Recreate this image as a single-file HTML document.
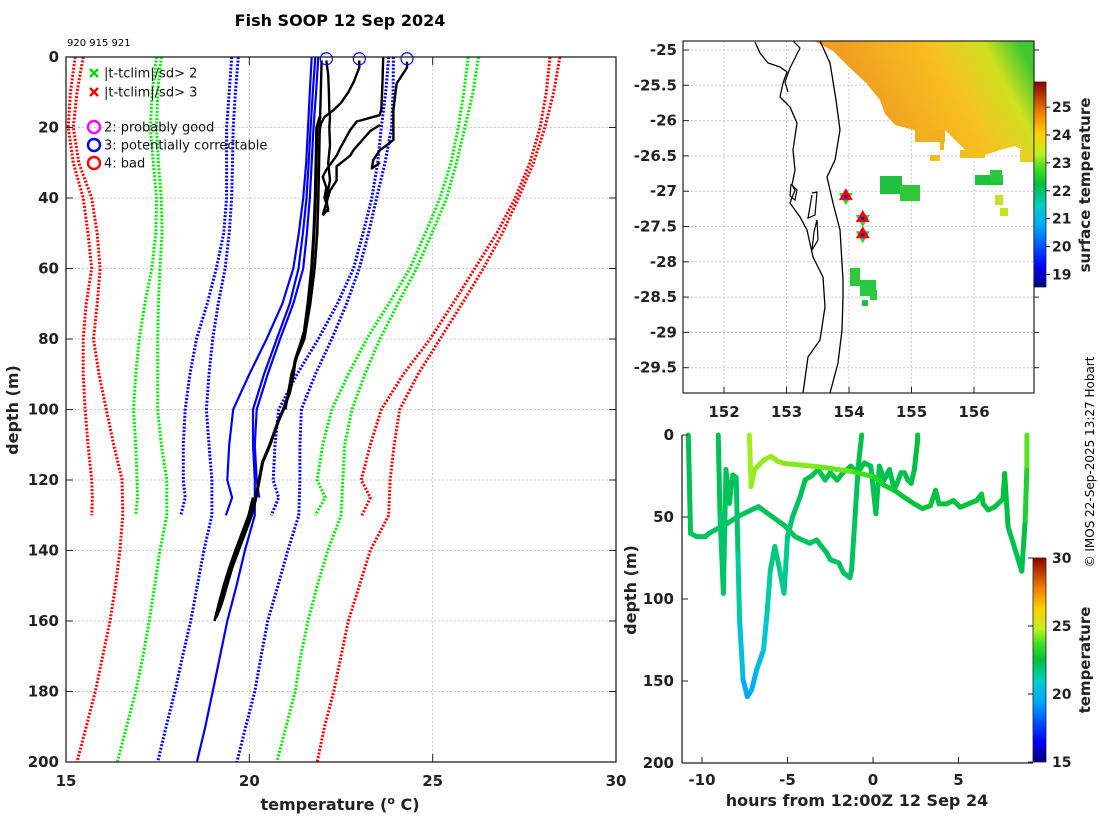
<!DOCTYPE html>
<html><head><meta charset="utf-8">
<style>
html,body{margin:0;padding:0;background:#fff;}
svg{display:block;font-family:"DejaVu Sans","Liberation Sans",sans-serif;}
.tk{font-size:15px;font-weight:bold;fill:#222;}
.lab{font-size:16px;font-weight:bold;fill:#222;}
.lg{font-size:13px;fill:#111;}
</style></head><body>
<svg id="svg" width="1100" height="820" viewBox="0 0 1100 820" xmlns="http://www.w3.org/2000/svg">
<defs>
<linearGradient id="jet" x1="0" y1="1" x2="0" y2="0">
<stop offset="0" stop-color="#00007f"/><stop offset="0.1" stop-color="#0000ff"/><stop offset="0.3" stop-color="#00aaff"/><stop offset="0.4" stop-color="#00d0c0"/><stop offset="0.5" stop-color="#00c040"/><stop offset="0.58" stop-color="#40e020"/><stop offset="0.65" stop-color="#c0f020"/><stop offset="0.75" stop-color="#ffd000"/><stop offset="0.85" stop-color="#f08000"/><stop offset="1" stop-color="#900000"/>
</linearGradient>
<linearGradient id="sst" gradientUnits="userSpaceOnUse" x1="880" y1="120" x2="1020" y2="45">
<stop offset="0" stop-color="#f0a020"/><stop offset="0.5" stop-color="#f8c020"/><stop offset="0.8" stop-color="#d0e020"/><stop offset="1" stop-color="#40c830"/>
</linearGradient>
</defs>
<text x="340" y="26" text-anchor="middle" style="font-size:16px;font-weight:bold">Fish SOOP 12 Sep 2024</text>
<text x="67" y="46" style="font-size:10px">920 915 921</text>
<g id="main"></g><g id="map"></g><g id="bot"></g>
<text transform="translate(18,410) rotate(-90)" text-anchor="middle" class="lab">depth (m)</text>
<text x="340" y="810" text-anchor="middle" class="lab">temperature (<tspan dy="-6" style="font-size:11px">o</tspan><tspan dy="6"> C)</tspan></text>
<text transform="translate(636,590) rotate(-90)" text-anchor="middle" class="lab">depth (m)</text>
<text x="857" y="806" text-anchor="middle" class="lab">hours from 12:00Z 12 Sep 24</text>
<text transform="translate(1090,185) rotate(-90)" text-anchor="middle" class="lab" style="font-size:15px">surface temperature</text>
<text transform="translate(1090,660) rotate(-90)" text-anchor="middle" class="lab" style="font-size:15px">temperature</text>
<text transform="translate(1094,462) rotate(-90)" text-anchor="middle" style="font-size:12px">© IMOS 22-Sep-2025 13:27 Hobart</text>
</svg>
<script>
// ---------- main profile chart data ----------
const depthsLong=[0,10,20,30,40,50,60,70,80,90,100,110,120,130,140,150,160,170,180,190,200];
const depthsShort=[0,10,20,30,40,50,60,70,80,90,100,110,120,125,130];
const redLeftShort=[15.25,15.12,15.06,15.2,15.47,15.6,15.7,15.55,15.47,15.47,15.52,15.6,15.7,15.72,15.7];
const redLeftLong=[15.47,15.3,15.2,15.35,15.7,15.85,15.93,15.85,15.75,15.9,16.1,16.3,16.53,16.55,16.47,16.35,16.2,16.0,15.8,15.55,15.3];
const greenLeftShort=[17.47,17.35,17.3,17.38,17.47,17.45,17.34,17.15,17.0,16.9,16.84,16.9,16.94,16.95,16.9];
const greenLeftLong=[17.6,17.5,17.47,17.52,17.6,17.62,17.56,17.52,17.5,17.5,17.5,17.6,17.75,17.75,17.56,17.42,17.27,17.1,16.9,16.65,16.4];
const blueLeftShort=[19.52,19.45,19.38,19.38,19.38,19.3,19.1,18.85,18.56,18.38,18.25,18.2,18.2,18.25,18.13];
const blueLeftLong=[19.7,19.62,19.56,19.54,19.52,19.45,19.34,19.15,19.0,18.9,18.83,18.9,18.98,18.98,18.76,18.58,18.4,18.18,17.97,17.73,17.5];
const blueRightShort=[23.8,23.72,23.6,23.5,23.34,23.1,22.84,22.4,21.88,21.3,20.8,20.7,20.65,20.8,20.6];
const blueRightLong=[23.93,23.92,23.88,23.7,23.47,23.25,23.0,22.65,22.25,21.8,21.42,21.38,21.38,21.35,21.05,20.78,20.5,20.32,20.15,19.9,19.66];
const greenRightShort=[25.97,25.85,25.7,25.5,25.2,24.8,24.38,23.8,23.2,22.7,22.25,22.0,21.85,22.07,21.8];
const greenRightLong=[26.25,26.1,25.88,25.65,25.38,24.98,24.56,24.05,23.56,23.15,22.8,22.6,22.55,22.5,22.14,21.85,21.6,21.4,21.25,21.0,20.75];
const redRightShort=[28.2,28.1,27.93,27.65,27.25,26.75,26.15,25.55,24.93,24.2,23.6,23.3,23.05,23.3,23.07];
const redRightLong=[28.47,28.3,28.06,27.75,27.34,26.9,26.38,25.8,25.2,24.6,24.1,23.95,23.84,23.8,23.3,23.0,22.7,22.5,22.3,22.05,21.85];
const meanShort1=[21.7,21.65,21.6,21.55,21.47,21.35,21.2,20.9,20.47,20.0,19.56,19.45,19.4,19.53,19.36];
const meanLong=[21.8,21.73,21.67,21.62,21.56,21.46,21.34,21.1,20.75,20.4,20.1,20.1,20.15,20.15,19.88,19.65,19.4,19.2,19.0,18.8,18.57];
const meanShort2=[21.88,21.82,21.75,21.7,21.65,21.57,21.47,21.2,20.84,20.5,20.2,20.15,20.2,20.27];
const profMainD=[17,20,30,40,50,60,70,78,82,86,90,95,100,103,110,115,120,125,130,135,140,145,150,155,159];
const profMainT=[21.93,21.84,21.82,21.8,21.76,21.7,21.6,21.5,21.38,21.25,21.2,21.1,20.93,20.8,20.56,20.36,20.27,20.18,20.06,19.88,19.7,19.52,19.38,19.24,19.09];
const profM2D=[20,30,40,50,60,70,80,85,90,100];
const profM2T=[21.92,21.9,21.88,21.85,21.78,21.66,21.5,21.3,21.15,20.98];
const profM3D=[125,130,135,140,145,150,155,160];
const profM3T=[20.1,19.98,19.8,19.62,19.45,19.3,19.17,19.05];
const profK0D=[1,10,17,20];
const profK0T=[21.97,21.95,21.93,21.9];
const profK1D=[1,5,10,15,17,20,25,30,35,40,44];
const profK1T=[22.1,22.15,22.17,22.18,22.2,22.18,22.2,22.15,22.2,22.1,22.15];
const profK2D=[1,3,7,10,13,15,17,19,22];
const profK2T=[23.0,23.0,22.85,22.7,22.5,22.3,22.05,21.95,21.9];
const profK3D=[0,8,15,16.5,18.3,20.7,26,28,32,34,37,40,43,45];
const profK3T=[23.65,23.63,23.6,23.55,22.93,22.75,22.47,22.38,22.1,22.0,22.1,22.05,22.15,22.0];
const profK4D=[1.3,3,7.5,15,18.3,20.7,23.5,25.4,26.4,29.2,31.6,30];
const profK4T=[24.3,24.3,24.02,23.93,23.93,23.93,23.93,23.7,23.56,23.38,23.34,23.56];
const profK5D=[19.3,21,26.4,28,31,35,38,41.5,44.8];
const profK5T=[23.56,23.3,22.84,22.75,22.38,22.38,22.2,22.1,22.0];
const flagTemps=[22.1,23.0,24.3];
const xTicks=[15,20,25,30];
const yTicks=[0,20,40,60,80,100,120,140,160,180,200];

// ---------- map data ----------
const lonTicks=[152,153,154,155,156];
const latTicks=[-25,-25.5,-26,-26.5,-27,-27.5,-28,-28.5,-29,-29.5];
const stationLon=[153.95,154.22,154.22];
const stationLat=[-27.07,-27.38,-27.61];
const sstTicks=[19,20,21,22,23,24,25];

// ---------- track chart data ----------
const trackAH=[-10.8,-10.67,-10.3,-9.8,-9.6,-8.55,-7.77,-6.7,-6.0,-5.2,-4.55,-3.7,-3.3,-2.7,-2.5,-2.0,-1.73,-1.35,-1.25,-1.05,-0.86,-0.66];
const trackAD=[0,60,62,62,60,54,49,43.7,49,55,62,66,64,72,76,78,84,87,82,50,19,0];
const trackAT=[22.4,22.2,22.2,22.2,22.2,22.2,22.2,22.2,22.2,22.2,22.2,22.2,22.2,22.2,22.2,22.1,22.1,22.1,22.1,22.2,22.3,22.4];
const trackBH=[-9.05,-8.95,-8.75,-8.6,-8.4,-8.2,-8.0,-7.9,-7.8,-7.6,-7.35,-7.1,-6.8,-6.4,-6.2,-6.0,-5.74,-5.5,-5.2,-5.0,-4.7,-4.26,-3.97,-3.6,-3.2,-2.8,-2.5,-2.1,-1.75,-1.3,-0.9,-0.5,-0.13,0.17,0.37,0.66,0.96,1.25,1.64,1.84,2.03,2.23,2.42,2.61,2.61];
const trackBD=[0,48,96.5,21,41.7,24.4,26,72,113,149,159.5,155.5,143,131,109,82.3,68,80,96.5,62,49.8,37.6,27.4,25,21,27.5,23,27.5,23,19,23,17,19,48,19,27.4,21,33.5,23,23,27.4,29.5,21,3,0];
const trackBT=[22.5,22.2,21.8,22.3,22.2,22.3,22.3,21.8,21.0,19.8,19.4,19.5,20.0,20.4,21.0,21.6,21.8,21.7,21.4,21.8,22.0,22.2,22.3,22.3,22.4,22.3,22.4,22.3,22.4,22.4,22.4,22.4,22.4,22.1,22.4,22.3,22.4,22.3,22.4,22.4,22.3,22.3,22.4,22.6,22.6];
const trackCH=[-7.23,-7.13,-6.93,-6.35,-5.96,-5.57,-5.2,-3.06,-1.1,0.07,0.66,1.25,1.8,2.4,2.9,3.36,3.66,3.86,4.3,4.7,5.1,5.57,6.05,6.35,6.44,6.74,7.1,7.6,7.7,7.9,8.5,8.7,8.9,9.0,9.0];
const trackCD=[0,31.5,21,15,13,16,17.3,19.5,22.5,25.6,30.7,33.7,37.8,41.9,44.9,43,33.7,42,42,40,44,42,40,36,42,45.7,44,39,23.5,56,76.2,83,52,19,0];
const trackCT=[24.6,24.4,24.4,24.4,24.4,24.4,24.3,24.2,23.9,23.4,23.0,22.7,22.7,22.6,22.6,22.6,22.6,22.6,22.6,22.6,22.6,22.6,22.6,22.6,22.6,22.6,22.6,22.6,22.6,22.4,22.3,22.3,22.6,23.6,24.2];
const hourTicks=[-10,-5,0,5];
const depthTicks=[0,50,100,150,200];
const tempCbTicks=[15,20,25,30];

const NS="http://www.w3.org/2000/svg";
function mk(tag,attrs,parent){const e=document.createElementNS(NS,tag);for(const k in attrs)e.setAttribute(k,attrs[k]);parent.appendChild(e);return e;}
function pts(xs,ys){return xs.map((v,i)=>v.toFixed(1)+','+ys[i].toFixed(1)).join(' ');}

// ===== main chart =====
const gM=document.getElementById('main');
const L=66,R=616,T=57,B=762;
const sx=t=>L+(t-15)*(R-L)/15;
const sy=d=>T+d*(B-T)/200;
xTicks.forEach(t=>{
  if(t>15&&t<30){const g=mk('line',{x1:sx(t),x2:sx(t),y1:T,y2:B,stroke:'#c4c8e0','stroke-dasharray':'2 2','stroke-width':1},gM);
  
  
  mk('line',{x1:sx(t),x2:sx(t),y1:B,y2:B-8,stroke:'#222'},gM);mk('line',{x1:sx(t),x2:sx(t),y1:T,y2:T+8,stroke:'#222'},gM);}
  const tx=mk('text',{x:sx(t),y:B+24,'text-anchor':'middle',class:'tk'},gM);tx.textContent=t;
  
  
});
yTicks.forEach(d=>{
  if(d>0&&d<200){const g=mk('line',{x1:L,x2:R,y1:sy(d),y2:sy(d),stroke:'#c4c8e0','stroke-dasharray':'2 2','stroke-width':1},gM);
  
  
  mk('line',{x1:L,x2:L+7,y1:sy(d),y2:sy(d),stroke:'#222'},gM);mk('line',{x1:R,x2:R-7,y1:sy(d),y2:sy(d),stroke:'#222'},gM);}
  const tx=mk('text',{x:L-7,y:sy(d)+5,'text-anchor':'end',class:'tk'},gM);tx.textContent=d;
  
  
});
function clim(depths,temps,color,name){
  const p=mk('polyline',{points:pts(temps.map(sx),depths.slice(0,temps.length).map(sy)),fill:'none',stroke:color,'stroke-width':3,'stroke-dasharray':'2 1.6'},gM);
  
  
}
clim(depthsShort,redLeftShort,'#ff0000','clim-minus3sd-short');
clim(depthsLong,redLeftLong,'#ff0000','clim-minus3sd-long');
clim(depthsShort,greenLeftShort,'#00ee00','clim-minus2sd-short');
clim(depthsLong,greenLeftLong,'#00ee00','clim-minus2sd-long');
clim(depthsShort,blueLeftShort,'#0000ff','clim-minus1sd-short');
clim(depthsLong,blueLeftLong,'#0000ff','clim-minus1sd-long');
clim(depthsShort,blueRightShort,'#0000ff','clim-plus1sd-short');
clim(depthsLong,blueRightLong,'#0000ff','clim-plus1sd-long');
clim(depthsShort,greenRightShort,'#00ee00','clim-plus2sd-short');
clim(depthsLong,greenRightLong,'#00ee00','clim-plus2sd-long');
clim(depthsShort,redRightShort,'#ff0000','clim-plus3sd-short');
clim(depthsLong,redRightLong,'#ff0000','clim-plus3sd-long');
function solid(depths,temps,color,w,name){
  const p=mk('polyline',{points:pts(temps.map(sx),depths.slice(0,temps.length).map(sy)),fill:'none',stroke:color,'stroke-width':w,'stroke-linejoin':'round'},gM);
  
  
}
solid(depthsShort,meanShort1,'#0000ff',2.2,'clim-mean-short');
solid(depthsLong,meanLong,'#0000ff',2.2,'clim-mean-long');
solid(depthsShort,meanShort2,'#0000ff',2.2,'clim-mean-short-2');
solid(profMainD,profMainT,'#000',3.2,'profile-main');
solid(profM2D,profM2T,'#000',2.6,'profile-main-2');
solid(profM3D,profM3T,'#000',2.6,'profile-main-3');
solid(profK0D,profK0T,'#000',2.4,'profile-920');
solid(profK1D,profK1T,'#000',2.4,'profile-920b');
solid(profK2D,profK2T,'#000',2.4,'profile-915');
solid(profK3D,profK3T,'#000',2.4,'profile-915b');
solid(profK4D,profK4T,'#000',2.4,'profile-921');
solid(profK5D,profK5T,'#000',2.4,'profile-921b');
flagTemps.forEach(t=>{
  const c=mk('circle',{cx:sx(t),cy:sy(0.5),r:6,fill:'none',stroke:'#0000ff','stroke-width':1.2},gM);
  
  
});
mk('rect',{x:L,y:T,width:R-L,height:B-T,fill:'none',stroke:'#222','stroke-width':1.3},gM);
// legend
const lgItems=[['x','#00dd00',73,'|t-tclim|/sd> 2'],['x','#ff0000',92,'|t-tclim|/sd> 3'],['o','#ff00ff',127,'2: probably good'],['o','#0000ff',145,'3: potentially correctable'],['o','#ff0000',163,'4: bad']];
lgItems.forEach(it=>{
  const g=mk('g',{},gM);
  
  
  if(it[0]=='x'){mk('path',{d:`M90 ${it[2]-4}l8 8M98 ${it[2]-4}l-8 8`,stroke:it[1],'stroke-width':2.4},g);}
  else{mk('circle',{cx:94,cy:it[2],r:6,fill:'none',stroke:it[1],'stroke-width':2.4},g);}
  const tx=mk('text',{x:104,y:it[2]+4.5,class:'lg'},g);tx.textContent=it[3];
});

// ===== map =====
const gP=document.getElementById('map');
const mL=683,mR=1034,mT=41,mB=393;
const mx=lo=>724+(lo-152)*62.5;
const my=la=>50+(-25-la)*70.6;
lonTicks.forEach(lo=>{
  const g=mk('line',{x1:mx(lo),x2:mx(lo),y1:mT,y2:mB,stroke:'#c4c8e0','stroke-dasharray':'2 2'},gP);
  
  
  mk('line',{x1:mx(lo),x2:mx(lo),y1:mB,y2:mB-6,stroke:'#222'},gP);
  const tx=mk('text',{x:mx(lo),y:mB+24,'text-anchor':'middle',class:'tk'},gP);tx.textContent=lo;
  
  
});
latTicks.forEach(la=>{
  const g=mk('line',{x1:mL,x2:mR,y1:my(la),y2:my(la),stroke:'#c4c8e0','stroke-dasharray':'2 2'},gP);
  
  
  mk('line',{x1:mL,x2:mL+6,y1:my(la),y2:my(la),stroke:'#222'},gP);
  mk('line',{x1:mR,x2:mR+5,y1:my(la),y2:my(la),stroke:'#222'},gP);
  const tx=mk('text',{x:mL-6,y:my(la)+5,'text-anchor':'end',class:'tk'},gP);tx.textContent=la;
  
  
});
// SST patches
const sst=mk('polygon',{points:'814,41 1034,41 1034,156 1015,146 1000,150 985,155 965,150 955,140 945,130 925,133 910,129 895,125 885,114 880,100 866,83 850,68 833,51',fill:'url(#sst)'},gP);


[[880,176,22,18,'#20c040'],[900,185,20,16,'#30c838'],[850,268,10,18,'#30c838'],[860,280,16,16,'#28c840'],[870,290,7,10,'#30c838'],[862,300,6,6,'#20c040'],[975,175,28,10,'#20c040'],[990,170,12,12,'#28c840'],[915,130,30,12,'#f0b020'],[940,140,4,10,'#f0b020'],[995,195,8,10,'#c8e020'],[1000,208,8,8,'#c8e020'],[1020,150,14,12,'#e8d020'],[960,150,25,8,'#f0c020'],[930,155,10,6,'#f0c020']].forEach(r=>{
  const e=mk('rect',{x:r[0],y:r[1],width:r[2],height:r[3],fill:r[4]},gP);
  
  
});
// coastline and shelf
const coast=mk('polyline',{points:'755,42 760,53 768,63 780,67 787,72 783,83 780,97 790,107 797,123 793,150 795,170 792,185 795,190 790,203 800,217 807,230 813,257 823,277 825,307 820,340 808,357 803,393',fill:'none',stroke:'#000','stroke-width':1.3},gP);


mk('polyline',{points:'793,41 800,48 790,68 785,82 788,92',fill:'none',stroke:'#000','stroke-width':1.2},gP);
mk('polyline',{points:'812,193 817,192 815,215 808,218 812,195',fill:'none',stroke:'#000','stroke-width':1.2},gP);
mk('polyline',{points:'817,220 818,240 812,250 814,232 817,220',fill:'none',stroke:'#000','stroke-width':1.2},gP);
mk('polyline',{points:'791,184 797,190 795,200 790,196 791,184',fill:'none',stroke:'#000','stroke-width':1.2},gP);
const shelf=mk('polyline',{points:'820,41 830,63 836,100 840,130 835,160 827,177 833,203 840,230 843,280 843,297 842,330 838,363 830,393',fill:'none',stroke:'#000','stroke-width':1.3},gP);


stationLon.forEach((lo,i)=>{
  const x=mx(lo),y=my(stationLat[i]);
  const g=mk('g',{},gP);
  
  
  mk('polygon',{points:`${x-7},${y-3} ${x+7},${y-3} ${x},${y+9}`,fill:'#22dd22'},g);
  mk('polygon',{points:`${x-7},${y+4} ${x+7},${y+4} ${x},${y-8}`,fill:'#ff0000'},g);
  mk('rect',{x:x-1.5,y:y-1,width:3,height:3,fill:'#0000ff'},g);
});
mk('rect',{x:mL,y:mT,width:mR-mL,height:mB-mT,fill:'none',stroke:'#222','stroke-width':1.2},gP);
// sst colorbar
const cb1T=82,cb1B=287,cb1min=18.55,cb1max=25.9;
const cb1y=v=>cb1B-(v-cb1min)/(cb1max-cb1min)*(cb1B-cb1T);
const cb1=mk('rect',{x:1034,y:cb1T,width:12,height:cb1B-cb1T,fill:'url(#jet)',stroke:'#222','stroke-width':0.8},gP);


sstTicks.forEach(v=>{
  mk('line',{x1:1046,x2:1050,y1:cb1y(v),y2:cb1y(v),stroke:'#222'},gP);
  const tx=mk('text',{x:1052,y:cb1y(v)+5,class:'tk',style:'font-size:14px'},gP);tx.textContent=v;
  
  
});

// ===== track chart =====
const gB=document.getElementById('bot');
const bL=682,bR=1033,bT=435,bB=763;
const bx=h=>873+h*17.1;
const by=d=>bT+d*(bB-bT)/200;
const stops=[[0,[0,0,127]],[0.1,[0,0,255]],[0.3,[0,170,255]],[0.4,[0,208,192]],[0.5,[0,192,64]],[0.58,[64,224,32]],[0.65,[192,240,32]],[0.75,[255,208,0]],[0.85,[240,128,0]],[1,[144,0,0]]];
function jet(t){const f=Math.max(0,Math.min(1,(t-15)/15));for(let i=1;i<stops.length;i++){if(f<=stops[i][0]){const a=stops[i-1],b=stops[i],u=(f-a[0])/(b[0]-a[0]);const c=a[1].map((v,k)=>Math.round(v+(b[1][k]-v)*u));return `rgb(${c})`;}}return 'rgb(144,0,0)';}
function track(H,D,Tm,name){
  const g=mk('g',{},gB);
  
  
  for(let i=0;i<H.length-1;i++){
    mk('line',{x1:bx(H[i]),y1:by(D[i]),x2:bx(H[i+1]),y2:by(D[i+1]),stroke:jet((Tm[i]+Tm[i+1])/2),'stroke-width':5,'stroke-linecap':'round'},g);
  }
}
track(trackAH,trackAD,trackAT,'track-a');
track(trackBH,trackBD,trackBT,'track-b');
track(trackCH,trackCD,trackCT,'track-c');
mk('line',{x1:bL,x2:bL,y1:bT,y2:bB,stroke:'#222','stroke-width':1.3},gB);
mk('line',{x1:bL,x2:bR,y1:bB,y2:bB,stroke:'#222','stroke-width':1.3},gB);
hourTicks.forEach(h=>{
  mk('line',{x1:bx(h),x2:bx(h),y1:bB,y2:bB-6,stroke:'#222'},gB);
  const tx=mk('text',{x:bx(h),y:bB+22,'text-anchor':'middle',class:'tk'},gB);tx.textContent=h;
  
  
});
depthTicks.forEach(d=>{
  mk('line',{x1:bL,x2:bL+6,y1:by(d),y2:by(d),stroke:'#222'},gB);
  const tx=mk('text',{x:bL-8,y:by(d)+5,'text-anchor':'end',class:'tk'},gB);tx.textContent=d;
  
  
});
const cb2T=558,cb2B=762;
const cb2y=v=>cb2B-(v-15)/15*(cb2B-cb2T);
const cb2=mk('rect',{x:1033,y:cb2T,width:13,height:cb2B-cb2T,fill:'url(#jet)',stroke:'#222','stroke-width':0.8},gB);


tempCbTicks.forEach(v=>{
  mk('line',{x1:1028,x2:1033,y1:cb2y(v),y2:cb2y(v),stroke:'#222'},gB);
  const tx=mk('text',{x:1052,y:cb2y(v)+5,class:'tk',style:'font-size:14px'},gB);tx.textContent=v;
  
  
});
</script>
</body></html>
